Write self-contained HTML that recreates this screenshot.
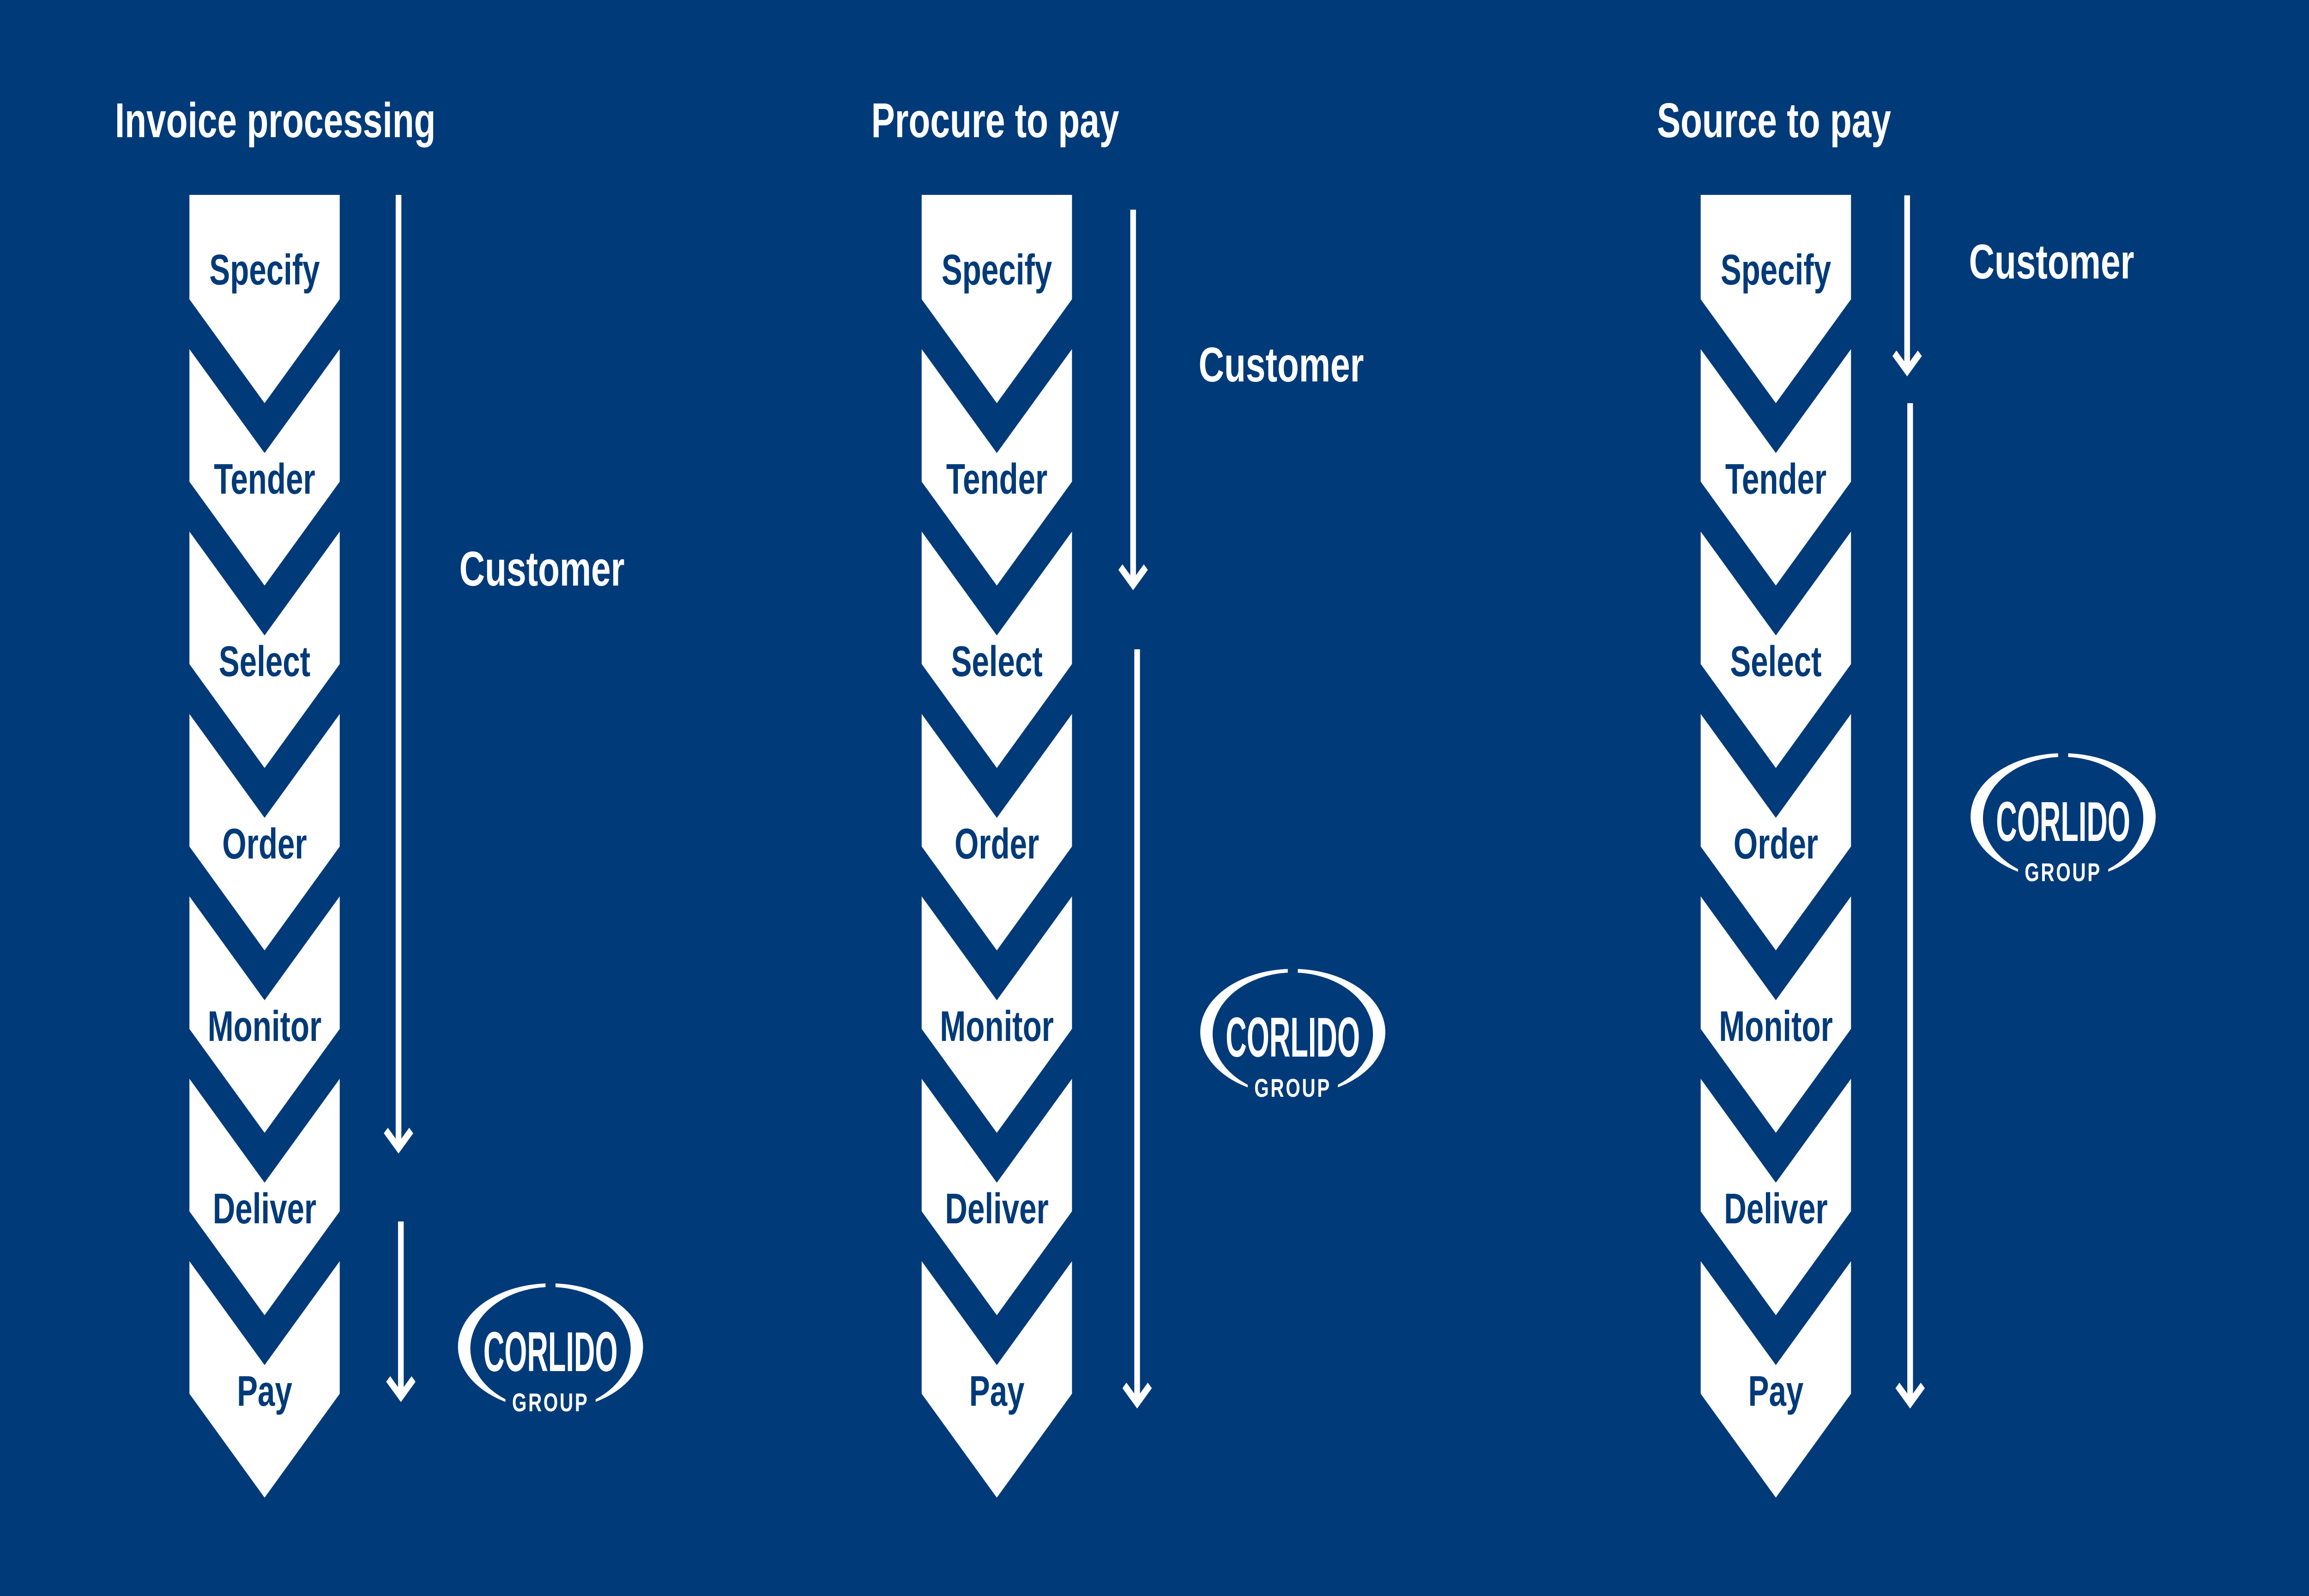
<!DOCTYPE html>
<html><head><meta charset="utf-8"><style>
html,body{margin:0;padding:0;background:#013a79;overflow:hidden;width:100%;height:100%;}
svg{display:block;width:100vw;height:100vh;}
text{font-family:"Liberation Sans",Arial,sans-serif;font-weight:bold;}
</style></head><body>
<svg viewBox="0 0 6912 3456" preserveAspectRatio="none" xmlns="http://www.w3.org/2000/svg">
<rect width="6912" height="3456" fill="#013a79"/>
<defs>
<g id="chev" fill="#fff">
<polygon points="0,422 450,422 450,648 225,873 0,648"/>
<polygon points="0,756 225,981 450,756 450,1043 225,1268 0,1043"/>
<polygon points="0,1151 225,1376 450,1151 450,1438 225,1663 0,1438"/>
<polygon points="0,1546 225,1771 450,1546 450,1833 225,2058 0,1833"/>
<polygon points="0,1941 225,2166 450,1941 450,2228 225,2453 0,2228"/>
<polygon points="0,2336 225,2561 450,2336 450,2623 225,2848 0,2623"/>
<polygon points="0,2731 225,2956 450,2731 450,3018 225,3243 0,3018"/>
</g>
</defs>

<g fill="#fff" font-size="106">
<text x="344" y="297">Invoice processing</text>
<text x="2608" y="297">Procure to pay</text>
<text x="4960" y="297">Source to pay</text>
<text x="1375" y="1268">Customer</text>
<text x="3588" y="826">Customer</text>
<text x="5894" y="603">Customer</text>
</g>

<g transform="translate(567,0)">
<use href="#chev"/>
<g fill="#013a79" font-size="93" text-anchor="middle">
<text x="225" y="616">Specify</text><text x="225" y="1069">Tender</text><text x="225" y="1464">Select</text><text x="225" y="1859">Order</text><text x="225" y="2254">Monitor</text><text x="225" y="2649">Deliver</text><text x="225" y="3044">Pay</text>
</g></g>
<g transform="translate(2759,0)">
<use href="#chev"/>
<g fill="#013a79" font-size="93" text-anchor="middle">
<text x="225" y="616">Specify</text><text x="225" y="1069">Tender</text><text x="225" y="1464">Select</text><text x="225" y="1859">Order</text><text x="225" y="2254">Monitor</text><text x="225" y="2649">Deliver</text><text x="225" y="3044">Pay</text>
</g></g>
<g transform="translate(5091,0)">
<use href="#chev"/>
<g fill="#013a79" font-size="93" text-anchor="middle">
<text x="225" y="616">Specify</text><text x="225" y="1069">Tender</text><text x="225" y="1464">Select</text><text x="225" y="1859">Order</text><text x="225" y="2254">Monitor</text><text x="225" y="2649">Deliver</text><text x="225" y="3044">Pay</text>
</g></g>

<g stroke="#fff" stroke-width="17" fill="none" stroke-linecap="butt">
<line x1="1193" y1="422" x2="1193" y2="2484"/><polyline points="1155,2448 1193,2486 1231,2448"/>
<line x1="1200" y1="2645" x2="1200" y2="3022"/><polyline points="1162,2986 1200,3024 1238,2986"/>
<line x1="3392" y1="454" x2="3392" y2="1264"/><polyline points="3354,1228 3392,1266 3430,1228"/>
<line x1="3404" y1="1406" x2="3404" y2="3036"/><polyline points="3366,3000 3404,3038 3442,3000"/>
<line x1="5709" y1="423" x2="5709" y2="801"/><polyline points="5671,765 5709,803 5747,765"/>
<line x1="5718" y1="873" x2="5718" y2="3036"/><polyline points="5680,3000 5718,3038 5756,3000"/>
</g>

<g transform="translate(1648,2916)">
<ellipse rx="277" ry="137" fill="#fff"/><ellipse cy="4" rx="240" ry="133" fill="#013a79"/>
<rect x="-15" y="-142" width="30" height="24" fill="#013a79"/><rect x="-135" y="88" width="270" height="60" fill="#013a79"/>
<text x="0" y="53" text-anchor="middle" font-size="122" fill="#fff" textLength="402" lengthAdjust="spacingAndGlyphs">CORLIDO</text>
<text x="0" y="140" text-anchor="middle" font-size="56" fill="#fff" letter-spacing="5">GROUP</text>
</g>
<g transform="translate(3870,2235)">
<ellipse rx="277" ry="137" fill="#fff"/><ellipse cy="4" rx="240" ry="133" fill="#013a79"/>
<rect x="-15" y="-142" width="30" height="24" fill="#013a79"/><rect x="-135" y="88" width="270" height="60" fill="#013a79"/>
<text x="0" y="53" text-anchor="middle" font-size="122" fill="#fff" textLength="402" lengthAdjust="spacingAndGlyphs">CORLIDO</text>
<text x="0" y="140" text-anchor="middle" font-size="56" fill="#fff" letter-spacing="5">GROUP</text>
</g>
<g transform="translate(6176,1768)">
<ellipse rx="277" ry="137" fill="#fff"/><ellipse cy="4" rx="240" ry="133" fill="#013a79"/>
<rect x="-15" y="-142" width="30" height="24" fill="#013a79"/><rect x="-135" y="88" width="270" height="60" fill="#013a79"/>
<text x="0" y="53" text-anchor="middle" font-size="122" fill="#fff" textLength="402" lengthAdjust="spacingAndGlyphs">CORLIDO</text>
<text x="0" y="140" text-anchor="middle" font-size="56" fill="#fff" letter-spacing="5">GROUP</text>
</g>
</svg>
</body></html>
